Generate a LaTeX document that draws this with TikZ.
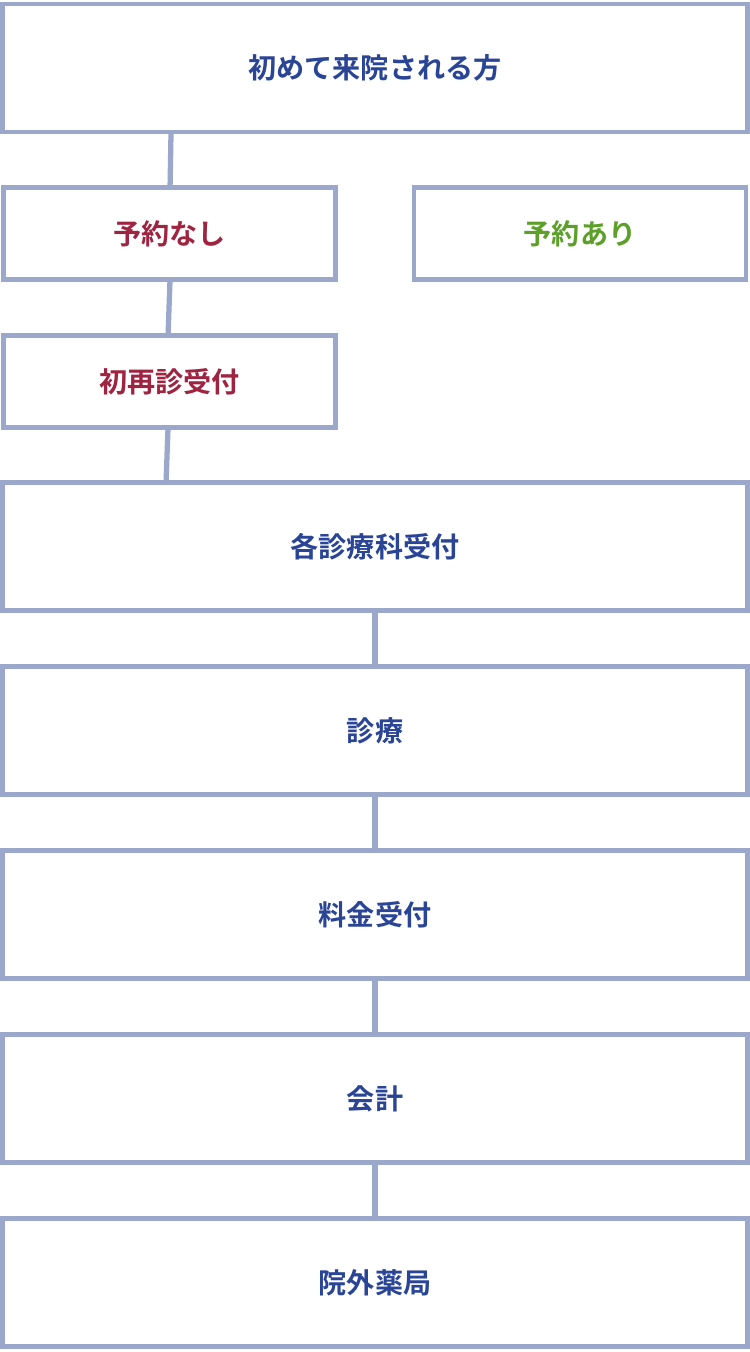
\documentclass[tikz,border=0pt]{standalone}
\usepackage{fontspec}
\newfontfamily\cjk{Noto Sans CJK JP}[BoldFont={Noto Sans CJK JP Bold}]
\usetikzlibrary{positioning,calc}
\definecolor{boxgray}{RGB}{155,168,204}
\definecolor{textblue}{RGB}{42,68,150}
\definecolor{textred}{RGB}{158,36,66}
\definecolor{textgreen}{RGB}{92,160,42}
\tikzset{
  flowbox/.style={draw=boxgray, line width=2.8pt, fill=white, inner sep=0pt,
    font=\cjk\bfseries\fontsize{16}{18}\selectfont, text=textblue},
  widebox/.style={flowbox, minimum width=745*0.02cm, minimum height=128*0.02cm},
  halfbox/.style={flowbox, minimum width=332*0.02cm, minimum height=92*0.02cm},
  link/.style={draw=boxgray, line width=3pt}
}
\begin{document}
\begin{tikzpicture}[x=0.02cm, y=-0.02cm]
  \useasboundingbox (0,0) rectangle (750,1352);
  % top
  \node[widebox] (first) at (375,68) {初めて来院される方};
  % reservation branch
  \node[halfbox, text=textred] (noresv) at (169.5,233.5) {予約なし};
  \node[halfbox, text=textgreen] (resv) at (580,233.5) {予約あり};
  \node[halfbox, text=textred] (reception) at (169.5,381.5) {初再診受付};
  % main flow
  \node[widebox] (dept) at (375,546.5) {各診療科受付};
  \node[widebox] (exam) at (375,730.5) {診療};
  \node[widebox] (fee) at (375,914.5) {料金受付};
  \node[widebox] (pay) at (375,1098.5) {会計};
  \node[widebox] (pharm) at (375,1282.5) {院外薬局};
  % connectors
  \draw[link] ($(first.south west)+(171,-3)$) -- ($(noresv.north west)+(169,3)$);
  \draw[link] ($(noresv.south west)+(169,-3)$) -- ($(reception.north west)+(167,3)$);
  \draw[link] ($(reception.south west)+(167,-3)$) -- ($(dept.north west)+(166,3)$);
  \draw[link] (dept.south) -- (exam.north);
  \draw[link] (exam.south) -- (fee.north);
  \draw[link] (fee.south) -- (pay.north);
  \draw[link] (pay.south) -- (pharm.north);
\end{tikzpicture}
\end{document}
